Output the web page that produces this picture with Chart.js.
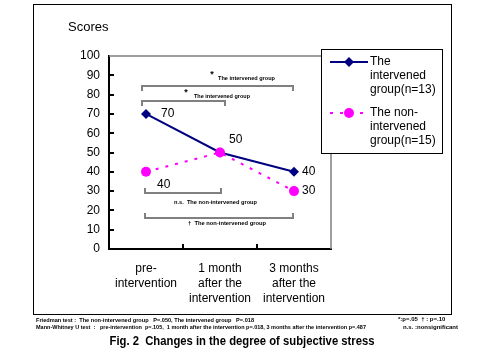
<!DOCTYPE html>
<html>
<head>
<meta charset="utf-8">
<script src="https://cdn.jsdelivr.net/npm/chart.js"></script>
<style>html,body{margin:0;padding:0;background:#fff}</style>
</head>
<body>
<canvas id="stress-chart" width="481" height="361"></canvas>
<script>
// chart data
const categories = [['pre-', 'intervention'], ['1 month', 'after the', 'intervention'], ['3 months', 'after the', 'intervention']];
const intervened = [70, 50, 40];
const nonIntervened = [40, 50, 30];
const seriesNames = [['The', 'intervened', 'group(n=13)'], ['The non-', 'intervened', 'group(n=15)']];
const yMin = 0, yMax = 100, yStep = 10;

const FONT = '"Liberation Sans", Arial, sans-serif';
const NAVY = '#000080', MAGENTA = '#FF00FF', GRAY = '#808080';

// value labels: [dx, dy, show]
const labelOffsets = [
  [[15, 0, true], [9, -13, true], [8, 0, true]],
  [[11, 13, true], [9, -13, false], [8, 0, true]]
];

function bracket(ctx, x1, x2, y, dir) {
  ctx.beginPath();
  ctx.moveTo(x1, y + dir * 5);
  ctx.lineTo(x1, y);
  ctx.lineTo(x2, y);
  ctx.lineTo(x2, y + dir * 5);
  ctx.stroke();
}

function smallText(ctx, txt, x, y, w) {
  ctx.font = 'bold 6px ' + FONT;
  ctx.textAlign = 'left';
  ctx.textBaseline = 'middle';
  ctx.fillText(txt, x, y, w);
}

const decorations = {
  id: 'decorations',
  beforeDraw(chart) {
    const ctx = chart.ctx;
    ctx.save();
    ctx.fillStyle = '#fff';
    ctx.fillRect(0, 0, chart.width, chart.height);
    ctx.strokeStyle = '#000';
    ctx.lineWidth = 1;
    ctx.strokeRect(33.5, 4.5, 418, 310);
    ctx.restore();
  },
  beforeDatasetsDraw(chart) {
    const ctx = chart.ctx, a = chart.chartArea;
    const xs = chart.scales.x, ys = chart.scales.y;
    ctx.save();
    // plot area frame (top / right)
    ctx.strokeStyle = GRAY;
    ctx.lineWidth = 1.5;
    ctx.beginPath();
    ctx.moveTo(a.left, a.top);
    ctx.lineTo(a.right, a.top);
    ctx.lineTo(a.right, a.bottom);
    ctx.stroke();
    // inside tick marks
    ctx.strokeStyle = '#000';
    ctx.lineWidth = 2;
    ctx.beginPath();
    for (let v = yMin + yStep; v < yMax; v += yStep) {
      const y = Math.round(ys.getPixelForValue(v));
      ctx.moveTo(a.left, y);
      ctx.lineTo(a.left + 5, y);
    }
    for (let i = 0; i < categories.length - 1; i++) {
      const x = Math.round((xs.getPixelForValue(i) + xs.getPixelForValue(i + 1)) / 2);
      ctx.moveTo(x, a.bottom);
      ctx.lineTo(x, a.bottom - 5);
    }
    ctx.stroke();

    // significance brackets
    ctx.strokeStyle = GRAY;
    ctx.lineWidth = 2;
    const x0 = xs.getPixelForValue(0), x1 = xs.getPixelForValue(1), x2 = xs.getPixelForValue(2);
    bracket(ctx, x0 - 4, x2 - 1, Math.round(ys.getPixelForValue(84.5)), 1);
    bracket(ctx, x0 - 4, x1 + 5, Math.round(ys.getPixelForValue(76.7)), 1);
    bracket(ctx, x0 - 1, x1 + 1, Math.round(ys.getPixelForValue(29)), -1);
    bracket(ctx, x0 - 1, x2 - 1, Math.round(ys.getPixelForValue(16)), -1);
    ctx.fillStyle = '#000';
    ctx.font = 'bold 9px ' + FONT;
    ctx.textAlign = 'center';
    ctx.textBaseline = 'middle';
    ctx.fillText('*', x0 + 66, ys.getPixelForValue(90.5));
    ctx.fillText('*', x0 + 40, ys.getPixelForValue(81));
    smallText(ctx, 'The intervened group', x0 + 72, ys.getPixelForValue(88.3), 57);
    smallText(ctx, 'The intervened group', x0 + 48, ys.getPixelForValue(79), 56);
    smallText(ctx, 'n.s.  The non-intervened group', x0 + 28, ys.getPixelForValue(24.3), 83);
    smallText(ctx, '\u2020  The non-intervened group', x0 + 42, ys.getPixelForValue(13.5), 78);
    ctx.restore();
  },
  afterDatasetsDraw(chart) {
    const ctx = chart.ctx;
    ctx.save();
    // value labels
    ctx.fillStyle = '#000';
    ctx.font = '12px ' + FONT;
    ctx.textAlign = 'left';
    ctx.textBaseline = 'middle';
    chart.data.datasets.forEach((ds, di) => {
      chart.getDatasetMeta(di).data.forEach((pt, i) => {
        const o = labelOffsets[di][i];
        if (o[2]) ctx.fillText(String(ds.data[i]), pt.x + o[0], pt.y + o[1]);
      });
    });

    // legend
    ctx.fillStyle = '#fff';
    ctx.fillRect(321.5, 49.5, 121, 104);
    ctx.strokeStyle = '#000';
    ctx.lineWidth = 1;
    ctx.strokeRect(321.5, 49.5, 121, 104);
    chart.data.datasets.forEach((ds, di) => {
      const y = 62 + di * 51;
      ctx.strokeStyle = ds.borderColor;
      ctx.lineWidth = 2;
      ctx.setLineDash(ds.borderDash || []);
      ctx.beginPath();
      ctx.moveTo(330, y);
      ctx.lineTo(368, y);
      ctx.stroke();
      ctx.setLineDash([]);
      ctx.fillStyle = ds.borderColor;
      ctx.beginPath();
      if (ds.pointStyle === 'rectRot') {
        ctx.moveTo(349, y - 5); ctx.lineTo(354, y); ctx.lineTo(349, y + 5); ctx.lineTo(344, y);
      } else {
        ctx.arc(349, y, 5, 0, Math.PI * 2);
      }
      ctx.closePath();
      ctx.fill();
      ctx.fillStyle = '#000';
      ctx.font = '12px ' + FONT;
      ctx.textAlign = 'left';
      ctx.textBaseline = 'middle';
      seriesNames[di].forEach((line, li) => ctx.fillText(line, 370, y + li * 14));
    });

    // "Scores" axis title
    ctx.fillStyle = '#000';
    ctx.font = '13px ' + FONT;
    ctx.textAlign = 'left';
    ctx.fillText('Scores', 68, 27);

    // footnotes
    smallText(ctx, 'Friedman test :  The non-intervened group   P=.050, The intervened group   P=.018', 36, 320, 218);
    smallText(ctx, 'Mann-Whitney U test  :   pre-intervention  p=.105,  1 month after the intervention p=.018, 3 months after the intervention p=.487', 36, 327, 330);
    smallText(ctx, '*:p=.05  \u2020 : p=.10', 398, 319, 60);
    smallText(ctx, 'n.s. :nonsignificant', 403, 327, 56);

    ctx.font = 'bold 13px ' + FONT;
    ctx.textAlign = 'center';
    ctx.fillText('Fig. 2  Changes in the degree of subjective stress', 242, 341, 265);
    ctx.restore();
  }
};

new Chart(document.getElementById('stress-chart'), {
  type: 'line',
  data: {
    labels: categories,
    datasets: [{
      label: seriesNames[0].join(' '),
      data: intervened,
      order: 1,
      borderColor: NAVY,
      backgroundColor: NAVY,
      borderWidth: 2,
      pointStyle: 'rectRot',
      pointRadius: 5,
      pointBorderWidth: 0,
      tension: 0,
      fill: false
    }, {
      label: seriesNames[1].join(' '),
      data: nonIntervened,
      order: 0,
      borderColor: MAGENTA,
      backgroundColor: MAGENTA,
      borderWidth: 2,
      borderDash: [3, 7],
      pointStyle: 'circle',
      pointRadius: 5,
      pointBorderWidth: 0,
      tension: 0,
      fill: false
    }]
  },
  options: {
    responsive: false,
    animation: false,
    layout: { padding: { top: 56, right: 150, bottom: 0, left: 0 } },
    plugins: { legend: { display: false }, tooltip: { enabled: false } },
    scales: {
      x: {
        offset: true,
        grid: { drawOnChartArea: false, drawTicks: false },
        border: { color: '#000', width: 2 },
        ticks: { padding: 12, color: '#000', maxRotation: 0, font: { family: FONT, size: 12, lineHeight: 1.25 } },
        afterFit: s => { s.height = 112; }
      },
      y: {
        min: yMin,
        max: yMax,
        grid: { drawOnChartArea: false, drawTicks: false },
        border: { color: '#000', width: 2 },
        ticks: { stepSize: yStep, padding: 9, color: '#000', font: { family: FONT, size: 12 } },
        afterFit: s => { s.width = 109; }
      }
    }
  },
  plugins: [decorations]
});
</script>
</body>
</html>
